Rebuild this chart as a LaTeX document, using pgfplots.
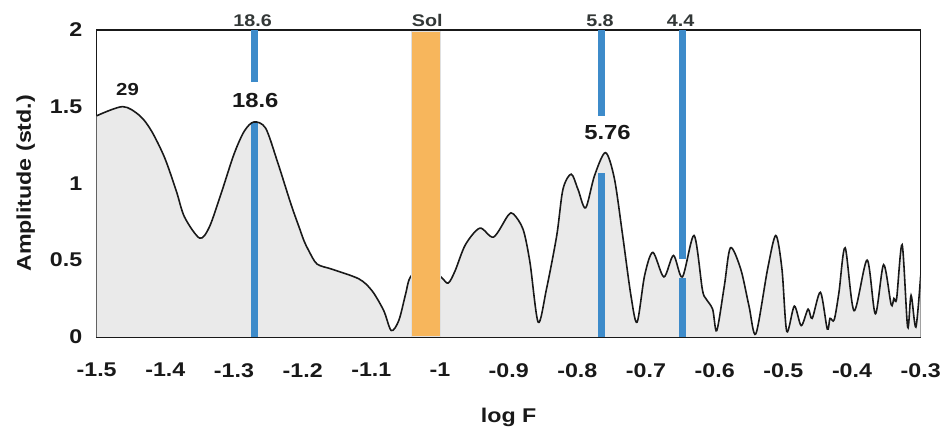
\documentclass[border=0pt]{standalone}
\usepackage{fontspec}
\setmainfont{Liberation Sans}[FakeStretch=1.17]
\usepackage{pgfplots}
\pgfplotsset{compat=1.18}
\usepackage{pgfplotstable}
\definecolor{barblue}{HTML}{3D8BCA}
\definecolor{solorange}{HTML}{F7B65C}
\definecolor{areagray}{HTML}{EAEAEA}
\definecolor{toptext}{HTML}{333837}

% amplitude spectrum
\pgfplotstableread{
x y
-1.500 1.440
-1.462 1.500
-1.437 1.440
-1.420 1.340
-1.401 1.167
-1.384 0.950
-1.372 0.780
-1.350 0.643
-1.336 0.714
-1.319 0.930
-1.300 1.190
-1.285 1.340
-1.271 1.400
-1.254 1.360
-1.237 1.145
-1.217 0.864
-1.205 0.712
-1.198 0.625
-1.191 0.560
-1.179 0.474
-1.157 0.440
-1.118 0.377
-1.099 0.300
-1.082 0.171
-1.071 0.041
-1.060 0.106
-1.050 0.280
-1.043 0.390
-1.021 0.470
-0.998 0.387
-0.988 0.350
-0.978 0.430
-0.963 0.600
-0.942 0.708
-0.922 0.650
-0.901 0.790
-0.893 0.800
-0.879 0.700
-0.869 0.485
-0.857 0.095
-0.845 0.310
-0.830 0.660
-0.821 0.960
-0.809 1.060
-0.799 0.960
-0.788 0.840
-0.775 1.050
-0.759 1.200
-0.746 1.030
-0.734 0.660
-0.722 0.270
-0.713 0.095
-0.702 0.400
-0.690 0.550
-0.674 0.390
-0.660 0.530
-0.647 0.390
-0.630 0.660
-0.618 0.310
-0.613 0.250
-0.603 0.180
-0.597 0.040
-0.586 0.330
-0.577 0.580
-0.562 0.440
-0.550 0.200
-0.540 0.020
-0.523 0.440
-0.511 0.660
-0.502 0.440
-0.495 0.035
-0.484 0.200
-0.474 0.073
-0.464 0.180
-0.458 0.120
-0.446 0.290
-0.436 0.050
-0.432 0.120
-0.426 0.110
-0.419 0.290
-0.410 0.580
-0.397 0.170
-0.378 0.500
-0.366 0.150
-0.354 0.470
-0.343 0.210
-0.339 0.250
-0.335 0.250
-0.327 0.600
-0.319 0.063
-0.314 0.270
-0.307 0.063
-0.300 0.400
}\spectrum

\begin{document}
\begin{tikzpicture}
\begin{axis}[
    name=ax,
    scale only axis,
    width=827bp, height=308bp,
    xmin=-1.5, xmax=-0.3,
    ymin=0, ymax=2,
    xtick={-1.5,-1.4,-1.3,-1.2,-1.1,-1,-0.9,-0.8,-0.7,-0.6,-0.5,-0.4,-0.3},
    xticklabels={-1.5,-1.4,-1.3,-1.2,-1.1,-1,-0.9,-0.8,-0.7,-0.6,-0.5,-0.4,-0.3},
    ytick={0,0.5,1,1.5,2},
    yticklabels={0,0.5,1,1.5,2},
    major tick length=0pt,
    axis line style={line width=1.6bp, black!90},
    tick label style={font=\bfseries\fontsize{20}{20}\selectfont, text=black!90},
    x tick label style={yshift=-23bp},
    y tick label style={xshift=-11bp},
    xlabel={log F},
    ylabel={Amplitude (std.)},
    xlabel shift=24bp,
    ylabel shift=8bp,
    label style={font=\bfseries\fontsize{20}{20}\selectfont, text=black!90},
    clip mode=individual,
]
% shaded area under the spectrum
\addplot[fill=areagray, draw=none, smooth, forget plot] table {\spectrum} \closedcycle;

% blue period markers (broken where the labels/curve sit)
\addplot[barblue, line width=7.7bp, forget plot] coordinates {(-1.270,0) (-1.270,1.39)};
\addplot[barblue, line width=7.7bp, forget plot] coordinates {(-1.270,1.66) (-1.270,2)};
\addplot[barblue, line width=7.5bp, forget plot] coordinates {(-0.7646,0) (-0.7646,1.065)};
\addplot[barblue, line width=7.5bp, forget plot] coordinates {(-0.7646,1.44) (-0.7646,2)};
\addplot[barblue, line width=7.5bp, forget plot] coordinates {(-0.6469,0) (-0.6469,0.38)};
\addplot[barblue, line width=7.5bp, forget plot] coordinates {(-0.6469,0.51) (-0.6469,2)};

% spectrum line
\addplot[black!90, line width=1.6bp, smooth] table {\spectrum};

% Sol band
\addplot[fill=solorange, draw=black!12, line width=0.8bp, forget plot]
    coordinates {(-1.0414,1.99) (-0.9993,1.99)} \closedcycle;

% annotations
\node[font=\bfseries\fontsize{17.5}{17.5}\selectfont, text=black!90] at (axis cs:-1.455,1.61) {29};
\node[font=\bfseries\fontsize{20.5}{20.5}\selectfont, text=black!90] at (axis cs:-1.269,1.54) {18.6};
\node[font=\bfseries\fontsize{20.5}{20.5}\selectfont, text=black!90] at (axis cs:-0.756,1.33) {5.76};
\node[font=\bfseries\fontsize{17}{17}\selectfont, text=toptext] at (axis cs:-1.273,2.058) {18.6};
\node[font=\bfseries\fontsize{17}{17}\selectfont, text=toptext] at (axis cs:-1.0186,2.062) {Sol};
\node[font=\bfseries\fontsize{17}{17}\selectfont, text=toptext] at (axis cs:-0.767,2.062) {5.8};
\node[font=\bfseries\fontsize{17}{17}\selectfont, text=toptext] at (axis cs:-0.6495,2.062) {4.4};
\end{axis}
% keep the reference's margins
\path (ax.south west) ++(-97bp,-92bp) (ax.north east) ++(20bp,30bp);
\end{tikzpicture}
\end{document}
